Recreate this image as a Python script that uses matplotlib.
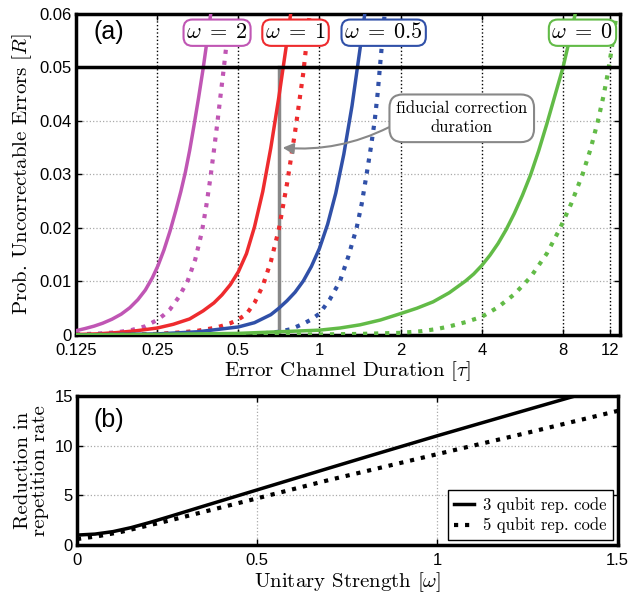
import matplotlib
matplotlib.use("Agg")
import matplotlib.pyplot as plt

plt.rcParams['mathtext.fontset'] = 'cm'
plt.rcParams['font.family'] = ['Liberation Sans', 'DejaVu Sans']
CM = 'cmr10'

# ---- panel (a): prob. uncorrectable errors vs error channel duration ----
# solid = 3 qubit code, dotted = 5 qubit code
t_w2 = [0.125, 0.135, 0.146, 0.157, 0.170, 0.184, 0.198, 0.212, 0.226, 0.240, 0.252,
        0.265, 0.279, 0.293, 0.306, 0.318, 0.330, 0.342, 0.356, 0.370, 0.384, 0.3975]
p_w2 = [0.0008, 0.0012, 0.00166, 0.0022, 0.00295, 0.0039, 0.0051, 0.0066, 0.0084, 0.0107, 0.0130,
        0.0159, 0.0194, 0.0232, 0.0268, 0.0304, 0.0345, 0.0390, 0.0443, 0.0497, 0.0555, 0.0610]
t_w2_5 = [0.125, 0.154, 0.177, 0.2, 0.225, 0.25, 0.264, 0.279, 0.301, 0.325, 0.346,
          0.366, 0.380, 0.393, 0.406, 0.417, 0.429, 0.442, 0.460]
p_w2_5 = [0.0001, 0.0003, 0.0005, 0.0009, 0.0016, 0.0028, 0.0037, 0.0048, 0.0071, 0.0102, 0.0141,
          0.0192, 0.0240, 0.0290, 0.0345, 0.0392, 0.0445, 0.0500, 0.0578]

t_w1 = [0.125, 0.149, 0.177, 0.210, 0.25, 0.287, 0.330, 0.370, 0.406, 0.435, 0.467, 0.5,
        0.536, 0.574, 0.616, 0.660, 0.707, 0.758, 0.812]
p_w1 = [0.0001, 0.0002, 0.00045, 0.0008, 0.0013, 0.0020, 0.0030, 0.0045, 0.0060, 0.0075, 0.0094, 0.0118,
        0.0152, 0.0202, 0.0268, 0.0350, 0.0445, 0.0550, 0.0662]
t_w1_5 = [0.125, 0.177, 0.25, 0.308, 0.354, 0.406, 0.435, 0.467, 0.5, 0.536, 0.574,
          0.616, 0.660, 0.707, 0.758, 0.812, 0.871, 0.920]
p_w1_5 = [0.0, 0.00003, 0.0002, 0.0005, 0.0008, 0.0013, 0.0017, 0.0022, 0.0029, 0.0039, 0.0060,
          0.0092, 0.0137, 0.0198, 0.0283, 0.0380, 0.0490, 0.0600]

t_w05 = [0.125, 0.25, 0.354, 0.5, 0.574, 0.660, 0.707, 0.758, 0.812, 0.871, 0.933, 1.0,
         1.072, 1.149, 1.231, 1.320, 1.414, 1.495]
p_w05 = [0.0, 0.0002, 0.0006, 0.0015, 0.0023, 0.0038, 0.0050, 0.0064, 0.0080, 0.0101, 0.0128, 0.0162,
         0.0207, 0.0265, 0.0338, 0.0428, 0.0535, 0.0625]
t_w05_5 = [0.125, 0.5, 0.616, 0.707, 0.785, 0.871, 0.933, 1.0, 1.0905, 1.19, 1.278, 1.373,
           1.434, 1.495, 1.548, 1.602, 1.642, 1.675, 1.741]
p_w05_5 = [0.0, 0.0001, 0.0003, 0.0006, 0.0011, 0.0021, 0.0029, 0.0040, 0.0066, 0.0100, 0.0146, 0.0200,
           0.0245, 0.0300, 0.0348, 0.0400, 0.0450, 0.0500, 0.0595]

t_w0 = [0.125, 0.25, 0.5, 0.707, 1.0, 1.19, 1.414, 1.682, 2.0, 2.297, 2.639, 3.03, 3.482,
        3.732, 4.0, 4.287, 4.595, 4.925, 5.278, 5.657, 6.063, 6.498, 6.964, 7.464, 8.0, 8.574, 9.06]
p_w0 = [0.0, 0.0001, 0.0003, 0.0006, 0.0009, 0.0013, 0.0019, 0.0028, 0.0040, 0.0050, 0.0062, 0.0079, 0.0101,
        0.0114, 0.0130, 0.0149, 0.0171, 0.0197, 0.0227, 0.0261, 0.0299, 0.0344, 0.0394, 0.0447, 0.0500, 0.0565, 0.0620]
t_w0_5 = [0.125, 1.0, 1.414, 2.0, 2.378, 2.714, 3.03, 3.482, 4.0, 4.595, 5.278, 6.063, 6.964,
          7.78, 8.574, 9.45, 10.13, 10.78, 11.31, 11.71, 12.13, 12.64]
p_w0_5 = [0.0, 0.0001, 0.0002, 0.0004, 0.0007, 0.0011, 0.0016, 0.0024, 0.0034, 0.0052, 0.0076, 0.0108, 0.0152,
          0.0198, 0.0245, 0.0300, 0.0348, 0.0400, 0.0447, 0.0487, 0.0535, 0.0600]

omega_labels = ['$\\omega \\;=\\; 2$', '$\\omega \\;=\\; 1$', '$\\omega \\;=\\; 0.5$', '$\\omega \\;=\\; 0$']
omega_label_x = [0.417, 0.815, 1.73, 9.45]
colors = ['#C056B4', '#EE2B2E', '#3050A8', '#62BB47']

fiducial_t = 0.71
threshold = 0.05

# ---- panel (b): reduction in repetition rate vs unitary strength ----
w_3q = [0.0, 0.05, 0.1, 0.15, 0.2, 0.26, 0.35, 0.5, 0.7, 0.81, 1.0, 1.2, 1.42]
r_3q = [1.0, 1.1, 1.35, 1.75, 2.25, 2.9, 3.9, 5.55, 7.75, 8.95, 11.0, 13.1, 15.4]
w_5q = [0.0, 0.06, 0.12, 0.19, 0.26, 0.38, 0.5, 0.7, 1.0, 1.25, 1.5]
r_5q = [0.6, 0.9, 1.3, 1.9, 2.5, 3.6, 4.7, 6.55, 9.15, 11.3, 13.5]

fig = plt.figure(figsize=(6.28, 5.95), dpi=100)
ax = fig.add_axes([0.121, 0.437, 0.866, 0.5395])
ax2 = fig.add_axes([0.1226, 0.084, 0.861, 0.2505])

series = [(t_w2, p_w2, t_w2_5, p_w2_5), (t_w1, p_w1, t_w1_5, p_w1_5),
          (t_w05, p_w05, t_w05_5, p_w05_5), (t_w0, p_w0, t_w0_5, p_w0_5)]
for (ts, ps, td, pd), c in zip(series, colors):
    ax.plot(ts, ps, '-', color=c, lw=2.5, zorder=3)
    ax.plot(td, pd, ':', color=c, lw=3, zorder=3)

ax.set_xscale('log', base=2)
ax.set_xlim(0.125, 13.0)
ax.set_ylim(0, 0.06)
xt = [0.125, 0.25, 0.5, 1, 2, 4, 8, 12]
ax.set_xticks(xt)
ax.set_xticklabels(['0.125', '0.25', '0.5', '1', '2', '4', '8', '12'])
ax.xaxis.set_minor_locator(matplotlib.ticker.NullLocator())
ax.set_yticks([0, 0.01, 0.02, 0.03, 0.04, 0.05, 0.06])
ax.set_yticklabels(['0', '0.01', '0.02', '0.03', '0.04', '0.05', '0.06'])
for x in xt[1:]:
    ax.axvline(x, color='black', ls=':', lw=1, zorder=1)
for y in [0.01, 0.02, 0.03, 0.04]:
    ax.axhline(y, color='#AAAAAA', ls=':', lw=0.9, zorder=1)
ax.axhline(threshold, color='black', lw=2.5, zorder=4)
ax.plot([fiducial_t, fiducial_t], [0, threshold], color='#888888', lw=2.5, zorder=2.5)

for lab, lx, c in zip(omega_labels, omega_label_x, colors):
    ax.text(lx, 0.0565, lab, fontsize=16, ha='center', va='center', zorder=6,
            bbox=dict(boxstyle='round,pad=0.12,rounding_size=0.4', fc='white', ec=c, lw=1.5))

ax.annotate('fiducial correction\nduration', xy=(0.73, 0.035), xytext=(3.37, 0.0405),
            fontsize=12, family=CM, ha='center', va='center', linespacing=1.3, zorder=6,
            bbox=dict(boxstyle='round,pad=0.4,rounding_size=0.8', fc='white', ec='#888888', lw=1.5),
            arrowprops=dict(arrowstyle='-|>', color='#888888', lw=1.5, mutation_scale=16,
                            relpos=(0.0, 0.35), connectionstyle='arc3,rad=-0.15',
                            shrinkA=0, shrinkB=0))

ax.text(0.032, 0.945, '(a)', transform=ax.transAxes, fontsize=18, va='center', ha='left')
ax.set_xlabel('Error Channel Duration [$\\tau$]', family=CM, fontsize=15, labelpad=1)
ax.set_ylabel('Prob. Uncorrectable Errors [$R$]', family=CM, fontsize=15, labelpad=4)

# panel (b)
ax2.plot(w_3q, r_3q, '-', color='black', lw=2.5, label='3 qubit rep. code')
ax2.plot(w_5q, r_5q, ':', color='black', lw=3, label='5 qubit rep. code')
ax2.set_xlim(0, 1.5)
ax2.set_ylim(0, 15)
ax2.set_xticks([0, 0.5, 1, 1.5])
ax2.set_xticklabels(['0', '0.5', '1', '1.5'])
ax2.set_yticks([0, 5, 10, 15])
ax2.grid(True, color='#AAAAAA', ls=':', lw=0.9)
ax2.text(0.03, 0.84, '(b)', transform=ax2.transAxes, fontsize=18, va='center', ha='left')
ax2.set_xlabel('Unitary Strength [$\\omega$]', family=CM, fontsize=15, labelpad=1)
ax2.set_ylabel('Reduction in\nrepetition rate', family=CM, fontsize=15, labelpad=4, linespacing=0.9)
leg = ax2.legend(loc='lower right', prop={'family': CM, 'size': 12}, fancybox=False,
                 edgecolor='black', framealpha=1, handlelength=1.2, borderpad=0.4,
                 labelspacing=0.3, handletextpad=0.5, borderaxespad=0.3)
leg.get_frame().set_linewidth(1.0)

for a in (ax, ax2):
    for s in a.spines.values():
        s.set_linewidth(2.5)
    a.tick_params(direction='in', length=4, width=1, top=True, right=True, labelsize=12)
    a.tick_params(axis='x', pad=6)
    a.tick_params(axis='y', pad=3)

fig.savefig('out.png', dpi=100)
